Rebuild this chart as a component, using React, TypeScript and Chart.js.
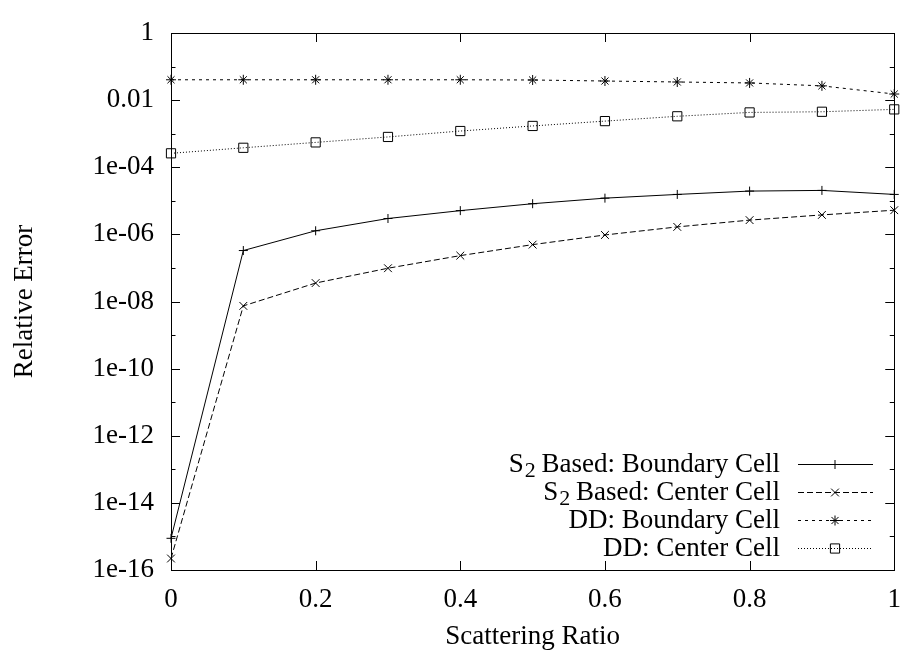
import { useEffect, useRef } from 'react';
import { Chart, registerables } from 'chart.js';

Chart.register(...registerables);

// ---- data ----
const scatteringRatio = [0, 0.1, 0.2, 0.3, 0.4, 0.5, 0.6, 0.7, 0.8, 0.9, 1.0];
const s2Boundary = [8.8e-16, 3.3e-7, 1.28e-6, 2.97e-6, 5.1e-6, 8.2e-6, 1.2e-5, 1.55e-5, 1.95e-5, 2.04e-5, 1.55e-5];
const s2Center = [2.2e-16, 7.4e-9, 3.55e-8, 9.8e-8, 2.33e-7, 4.95e-7, 9.6e-7, 1.67e-6, 2.66e-6, 3.8e-6, 5.25e-6];
const ddBoundary = [0.0404, 0.0404, 0.0404, 0.0404, 0.0404, 0.0398, 0.0371, 0.0347, 0.0325, 0.0266, 0.0152];
const ddCenter = [2.6e-4, 3.8e-4, 5.5e-4, 8.0e-4, 1.2e-3, 1.7e-3, 2.37e-3, 3.3e-3, 4.3e-3, 4.5e-3, 5.3e-3];

const xTickValues = [0, 0.2, 0.4, 0.6, 0.8, 1];
const yTickExponents = [0, -2, -4, -6, -8, -10, -12, -14, -16];
const yMinorExponents = [-1, -3, -5, -7, -9, -11, -13, -15];

const legendEntries = [
  { base: 'S', sub: '2', rest: ' Based: Boundary Cell' },
  { base: 'S', sub: '2', rest: ' Based: Center Cell' },
  { base: 'DD: Boundary Cell', sub: '', rest: '' },
  { base: 'DD: Center Cell', sub: '', rest: '' },
];

const xTitle = 'Scattering Ratio';
const yTitle = 'Relative Error';

const FONT = "'Liberation Serif', 'Times New Roman', serif";
const FS = 27;
const SUB_FS = 22;

function fmtY(v: number): string {
  const e = Math.round(Math.log10(v));
  if (e === 0) return '1';
  if (e === -2) return '0.01';
  const a = Math.abs(e);
  return '1e-' + (a < 10 ? '0' + a : String(a));
}

function drawMarker(ctx: CanvasRenderingContext2D, style: string, x: number, y: number, r: number) {
  ctx.beginPath();
  if (style === 'cross' || style === 'star') {
    ctx.moveTo(x - r, y); ctx.lineTo(x + r, y);
    ctx.moveTo(x, y - r); ctx.lineTo(x, y + r);
  }
  if (style === 'crossRot' || style === 'star') {
    const d = r * Math.SQRT1_2;
    ctx.moveTo(x - d, y - d); ctx.lineTo(x + d, y + d);
    ctx.moveTo(x - d, y + d); ctx.lineTo(x + d, y - d);
  }
  if (style === 'rect') {
    const s = r * Math.SQRT1_2;
    ctx.rect(x - s, y - s, 2 * s, 2 * s);
  }
  ctx.stroke();
}

const framePlugin = {
  id: 'gnuFrame',
  afterDraw(chart: any) {
    const ctx = chart.ctx as CanvasRenderingContext2D;
    const { left, right, top, bottom } = chart.chartArea;
    const xs = chart.scales.x;
    const ys = chart.scales.y;
    ctx.save();
    ctx.strokeStyle = '#000';
    ctx.lineWidth = 1;
    ctx.setLineDash([]);
    ctx.strokeRect(Math.round(left) + 0.5, Math.round(top) + 0.5, Math.round(right - left), Math.round(bottom - top));
    ctx.beginPath();
    const yt = (e: number, len: number) => {
      const py = Math.round(ys.getPixelForValue(Math.pow(10, e))) + 0.5;
      ctx.moveTo(left, py); ctx.lineTo(left + len, py);
      ctx.moveTo(right, py); ctx.lineTo(right - len, py);
    };
    yTickExponents.forEach((e) => yt(e, 9));
    yMinorExponents.forEach((e) => yt(e, 4.5));
    xTickValues.forEach((v) => {
      const px = Math.round(xs.getPixelForValue(v)) + 0.5;
      ctx.moveTo(px, bottom); ctx.lineTo(px, bottom - 9);
      ctx.moveTo(px, top); ctx.lineTo(px, top + 9);
    });
    ctx.stroke();

    // legend
    const datasets = chart.data.datasets;
    const textRight = 780;
    const lineX0 = 798;
    const lineX1 = 873;
    const rowY = [464.5, 492.5, 520.5, 548.5];
    legendEntries.forEach((entry, i) => {
      const ds = datasets[i];
      const y = rowY[i];
      ctx.font = `${FS}px ${FONT}`;
      ctx.fillStyle = '#000';
      ctx.textBaseline = 'middle';
      ctx.textAlign = 'left';
      const wBase = ctx.measureText(entry.base).width;
      const wRest = ctx.measureText(entry.rest).width;
      ctx.font = `${SUB_FS}px ${FONT}`;
      const wSub = entry.sub ? ctx.measureText(entry.sub).width : 0;
      let x = textRight - (wBase + wSub + wRest);
      ctx.font = `${FS}px ${FONT}`;
      ctx.fillText(entry.base, x, y);
      x += wBase;
      if (entry.sub) {
        ctx.font = `${SUB_FS}px ${FONT}`;
        ctx.fillText(entry.sub, x + 1, y + 7);
        x += wSub;
        ctx.font = `${FS}px ${FONT}`;
      }
      if (entry.rest) ctx.fillText(entry.rest, x, y);
      ctx.strokeStyle = '#000';
      ctx.lineWidth = 1;
      ctx.setLineDash(ds.borderDash || []);
      ctx.beginPath();
      ctx.moveTo(lineX0, y);
      ctx.lineTo(lineX1, y);
      ctx.stroke();
      ctx.setLineDash([]);
      drawMarker(ctx, ds.pointStyle, (lineX0 + lineX1) / 2 - 0.5, y, ds.pointRadius);
    });
    ctx.restore();
  },
};

export default function App() {
  const ref = useRef<HTMLCanvasElement | null>(null);
  useEffect(() => {
    if (!ref.current) return;
    const mk = (label: string, data: number[], dash: number[], pointStyle: string, r: number) => ({
      label,
      data: scatteringRatio.map((x, i) => ({ x, y: data[i] })),
      borderColor: '#000',
      backgroundColor: 'transparent',
      borderWidth: 1,
      borderDash: dash,
      pointStyle,
      pointRadius: r,
      pointBorderWidth: 1,
      pointBorderColor: '#000',
      pointBackgroundColor: 'transparent',
      tension: 0,
      clip: false as any,
    });
    const chart = new Chart(ref.current, {
      type: 'line',
      data: {
        datasets: [
          mk('S₂ Based: Boundary Cell', s2Boundary, [], 'cross', 4.5),
          mk('S₂ Based: Center Cell', s2Center, [6, 3], 'crossRot', 5.5),
          mk('DD: Boundary Cell', ddBoundary, [3, 4], 'star', 5),
          mk('DD: Center Cell', ddCenter, [1, 2], 'rect', 6.5),
        ] as any,
      },
      options: {
        animation: false,
        responsive: false,
        devicePixelRatio: 1,
        layout: { padding: { left: 0, right: 8, top: 0, bottom: 0 } },
        plugins: { legend: { display: false }, tooltip: { enabled: false } },
        scales: {
          x: {
            type: 'linear',
            min: 0,
            max: 1,
            grid: { display: false, drawTicks: false },
            border: { display: false },
            afterBuildTicks: (s: any) => { s.ticks = xTickValues.map((v) => ({ value: v })); },
            afterFit: (s: any) => { s.height = 87; },
            ticks: {
              padding: 14,
              color: '#000',
              maxRotation: 0,
              font: { family: FONT, size: FS },
              callback: (v: any) => String(Number(Number(v).toFixed(1))),
            },
            title: {
              display: true,
              text: xTitle,
              color: '#000',
              font: { family: FONT, size: FS },
              padding: { top: 0, bottom: 4 },
            },
          },
          y: {
            type: 'logarithmic',
            min: 1e-16,
            max: 1,
            grid: { display: false, drawTicks: false },
            border: { display: false },
            afterBuildTicks: (s: any) => { s.ticks = yTickExponents.map((e) => ({ value: parseFloat('1e' + e) })); },
            afterFit: (s: any) => { s.width = 171; },
            ticks: {
              padding: 17,
              color: '#000',
              font: { family: FONT, size: FS, lineHeight: 32 / 27 },
              callback: (v: any) => fmtY(Number(v)),
            },
            title: {
              display: true,
              text: yTitle,
              color: '#000',
              font: { family: FONT, size: FS },
              padding: { top: 9, bottom: 0 },
            },
          },
        },
      },
      plugins: [framePlugin],
    });
    return () => chart.destroy();
  }, []);
  return (
    <div style={{ position: 'absolute', left: 0, top: 0, width: 915, height: 657, background: '#fff' }}>
      <canvas ref={ref} width={915} height={657} style={{ display: 'block' }} />
    </div>
  );
}
